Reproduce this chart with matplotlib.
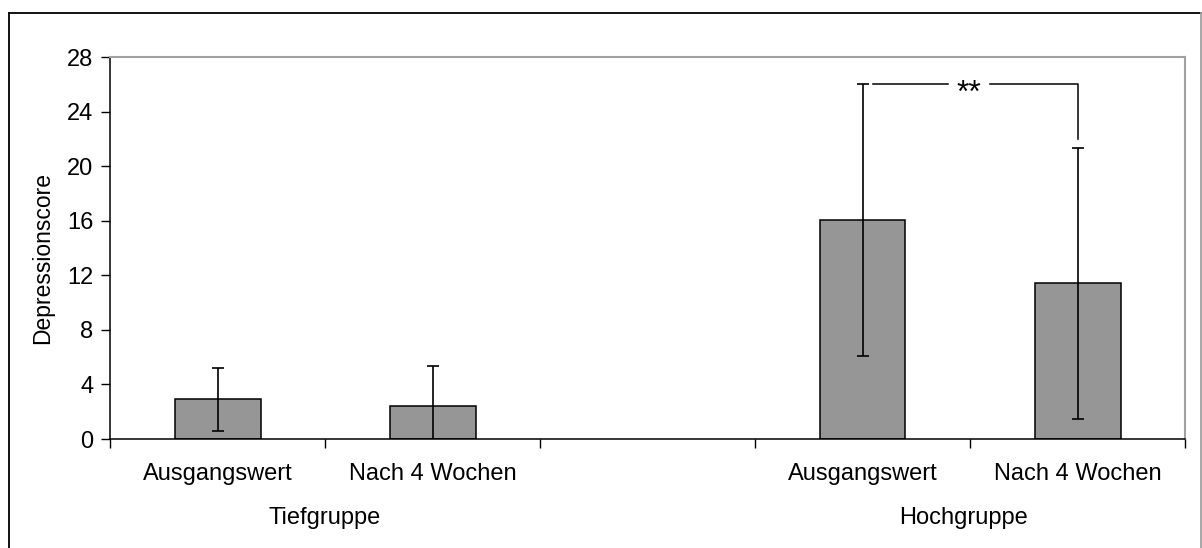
"""Depression scores for low and high group, baseline vs. after 4 weeks."""

import matplotlib

matplotlib.use("Agg")
import matplotlib.pyplot as plt
from matplotlib.lines import Line2D

plt.rcParams["font.family"] = ["Liberation Sans", "DejaVu Sans"]

# data
categories = ["Ausgangswert", "Nach 4 Wochen", "", "Ausgangswert", "Nach 4 Wochen"]
groups = ["Tiefgruppe", "Hochgruppe"]
group_centers = [1.5, 4.47]
positions = [1, 2, 4, 5]
means = [2.9, 2.4, 16.05, 11.4]
err_low = [2.3, 2.95, 10.0, 9.9]
err_high = [2.3, 2.95, 10.0, 9.9]
bracket_end = 22.0
y_ticks = [0, 4, 8, 12, 16, 20, 24, 28]

W, H = 1202, 548
fig = plt.figure(figsize=(W / 100, H / 100), dpi=100)
ax = fig.add_axes([110 / W, 1 - 439 / H, (1185 - 110) / W, (439 - 57) / H])

ax.bar(positions, means, width=0.4, color="#969696", edgecolor="black", linewidth=1.1, zorder=2)
ax.errorbar(
    positions,
    means,
    yerr=[err_low, err_high],
    fmt="none",
    ecolor="black",
    elinewidth=1.2,
    capsize=4.2,
    capthick=1.2,
    zorder=3,
)

# significance bracket between the two high-group bars
x_a, x_b = positions[2], positions[3]
y_top = means[2] + err_high[2]
star_x = (x_a + x_b) / 2 - 0.005
gap = 0.097
ax.plot([x_a + 0.05, star_x - gap], [y_top, y_top], color="black", lw=1.1, zorder=3)
ax.plot([star_x + gap, x_b, x_b], [y_top, y_top, bracket_end], color="black", lw=1.1, zorder=3)
ax.text(star_x, y_top - 0.75, "**", ha="center", va="center", fontsize=23)

ax.set_xlim(0.5, 5.5)
ax.set_ylim(0, 28)
ax.set_yticks(y_ticks)
ax.tick_params(axis="y", direction="out", length=6.5, width=1.0, labelsize=17, pad=5.5)

ax.set_xticks(range(1, len(categories) + 1))
ax.set_xticklabels(categories, fontsize=17)
ax.set_xticks([i + 0.5 for i in range(len(categories) + 1)], minor=True)
ax.tick_params(axis="x", which="major", length=0, pad=17)
ax.tick_params(axis="x", which="minor", direction="out", length=6.5, width=1.0)

for name in ["left", "bottom"]:
    ax.spines[name].set_color("black")
    ax.spines[name].set_linewidth(1.1)
for name in ["top", "right"]:
    ax.spines[name].set_color("#a0a0a0")
    ax.spines[name].set_linewidth(1.5)

for label, xc in zip(groups, group_centers):
    ax.text(xc, -0.207, label, transform=ax.get_xaxis_transform(), ha="center", va="center", fontsize=17)

fig.text(43 / W, 1 - 258 / H, "Depressionscore", rotation=90, ha="center", va="center", fontsize=16.5)

# outer frame
x0, x1, y0 = 8.5 / W, 1200.5 / W, 1 - 12.5 / H
fig.add_artist(Line2D([x0, x1], [y0, y0], color="black", lw=1.3, transform=fig.transFigure))
fig.add_artist(Line2D([x0, x0], [y0, 0], color="black", lw=1.3, transform=fig.transFigure))
fig.add_artist(Line2D([x1, x1], [y0, 0], color="#a0a0a0", lw=1.3, transform=fig.transFigure))

fig.savefig("out.png", dpi=100)
plt.close(fig)
